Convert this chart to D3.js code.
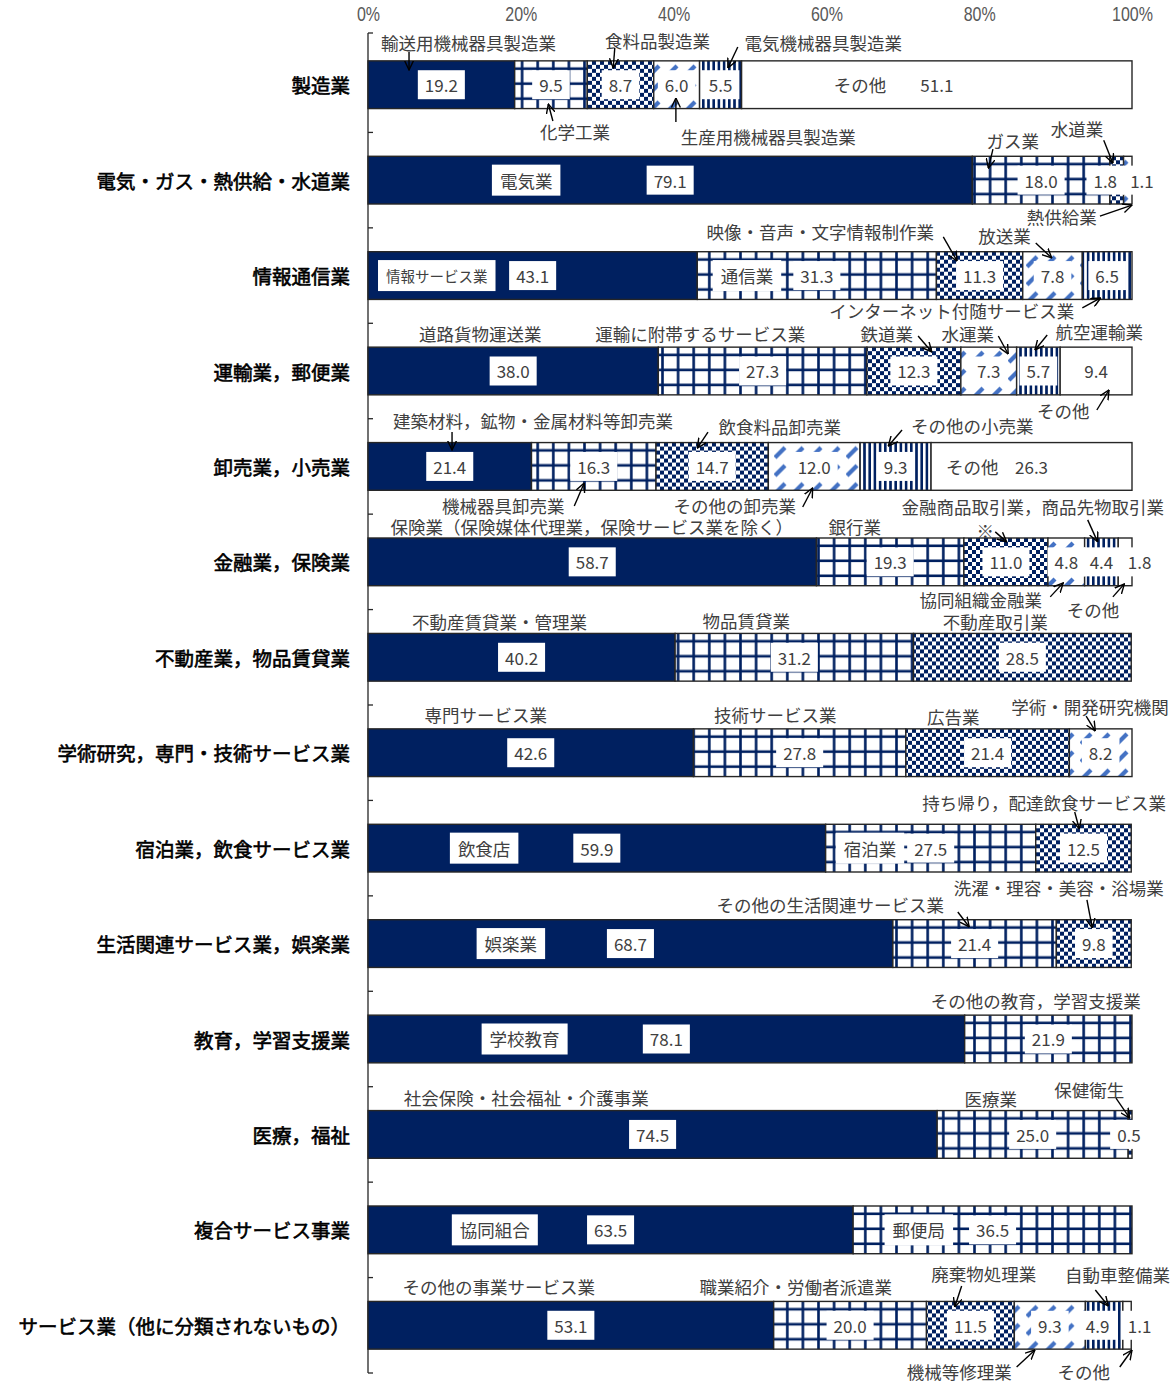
<!DOCTYPE html>
<html><head><meta charset="utf-8">
<script src="https://cdn.jsdelivr.net/npm/d3@7"></script>
<style>body{margin:0;background:#fff}svg{display:block}</style>
</head><body>
<svg id="chart" width="1176" height="1383"></svg>
<script>
// ---------------- DATA ----------------
const categories = [
  "製造業","電気・ガス・熱供給・水道業","情報通信業","運輸業，郵便業","卸売業，小売業",
  "金融業，保険業","不動産業，物品賃貸業","学術研究，専門・技術サービス業","宿泊業，飲食サービス業",
  "生活関連サービス業，娯楽業","教育，学習支援業","医療，福祉","複合サービス事業","サービス業（他に分類されないもの）"
];
const segNames = [
  ["輸送用機械器具製造業","化学工業","食料品製造業","生産用機械器具製造業","電気機械器具製造業","その他"],
  ["電気業","ガス業","水道業","熱供給業"],
  ["情報サービス業","通信業","映像・音声・文字情報制作業","放送業","インターネット付随サービス業"],
  ["道路貨物運送業","運輸に附帯するサービス業","鉄道業","水運業","航空運輸業","その他"],
  ["建築材料，鉱物・金属材料等卸売業","機械器具卸売業","飲食料品卸売業","その他の卸売業","その他の小売業","その他"],
  ["保険業（保険媒体代理業，保険サービス業を除く）","銀行業","※","協同組織金融業","金融商品取引業，商品先物取引業","その他"],
  ["不動産賃貸業・管理業","物品賃貸業","不動産取引業"],
  ["専門サービス業","技術サービス業","広告業","学術・開発研究機関"],
  ["飲食店","宿泊業","持ち帰り，配達飲食サービス業"],
  ["娯楽業","その他の生活関連サービス業","洗濯・理容・美容・浴場業"],
  ["学校教育","その他の教育，学習支援業"],
  ["社会保険・社会福祉・介護事業","医療業","保健衛生"],
  ["協同組合","郵便局"],
  ["その他の事業サービス業","職業紹介・労働者派遣業","廃棄物処理業","機械等修理業","自動車整備業","その他"]
];
const segValues = [
  [19.2, 9.5, 8.7, 6.0, 5.5, 51.1],
  [79.1, 18.0, 1.8, 1.1],
  [43.1, 31.3, 11.3, 7.8, 6.5],
  [38.0, 27.3, 12.3, 7.3, 5.7, 9.4],
  [21.4, 16.3, 14.7, 12.0, 9.3, 26.3],
  [58.7, 19.3, 11.0, 4.8, 4.4, 1.8],
  [40.2, 31.2, 28.5],
  [42.6, 27.8, 21.4, 8.2],
  [59.9, 27.5, 12.5],
  [68.7, 21.4, 9.8],
  [78.1, 21.9],
  [74.5, 25.0, 0.5],
  [63.5, 36.5],
  [53.1, 20.0, 11.5, 9.3, 4.9, 1.1]
];
const tickValues = [0, 20, 40, 60, 80, 100];
const tickLabels = ["0%","20%","40%","60%","80%","100%"];

// ---------------- LAYOUT (label placement, in axis % units and px offsets from bar centre) ----------------
const nameLayout = [
  [ {t:"out",x:13.15,dy:-42.7,a:[5.37,-32.7,5.37,-14.7]},
    {t:"out",x:27.1,dy:46.3,a:[24.2,36.3,23.6,19.3]},
    {t:"out",x:37.9,dy:-44.7,a:[32.3,-36.7,32.1,-16.7]},
    {t:"out",x:52.4,dy:51.3,a:[40.3,37.3,40.3,13.3]},
    {t:"out",x:59.6,dy:-42.7,a:[48.4,-37.7,47.1,-16.7]},
    {t:"in",x:64.4} ],
  [ {t:"box",x:20.7},
    {t:"out",x:84.4,dy:-40,a:[81.8,-31,81.2,-12]},
    {t:"out",x:92.8,dy:-52,a:[96.3,-40,97.5,-17]},
    {t:"out",x:90.8,dy:36,a:[95.8,36,100,25]} ],
  [ {t:"box",x:9.0,small:true},
    {t:"box",x:49.6},
    {t:"out",x:59.2,dy:-43.6,a:[75.3,-38.6,77.1,-14.6]},
    {t:"out",x:83.3,dy:-39.6,a:[87.4,-32.6,89.5,-17.6]},
    {t:"out",x:76.4,dy:35.4,a:[93.5,32.4,95.9,22.4]} ],
  [ {t:"out",x:14.7,dy:-38},
    {t:"out",x:43.5,dy:-38},
    {t:"out",x:67.9,dy:-38,a:[72.0,-35,73.8,-19]},
    {t:"out",x:78.5,dy:-38,a:[82.5,-35,83.8,-17]},
    {t:"out",x:95.7,dy:-40,a:[88.9,-36,87.3,-21]},
    {t:"out",x:91.0,dy:40,a:[95.4,39,97.0,19]} ],
  [ {t:"out",x:21.6,dy:-46.4,a:[11.0,-34.4,11.0,-16.4]},
    {t:"out",x:17.7,dy:38.6,a:[27.0,39.6,28.3,16.6]},
    {t:"out",x:53.9,dy:-40.4,a:[44.5,-34.4,43.1,-18.4]},
    {t:"out",x:48.0,dy:38.6,a:[56.9,40.6,58.2,21.6]},
    {t:"out",x:79.1,dy:-41.4,a:[69.9,-36.4,68.1,-20.4]},
    {t:"in",x:79.1} ],
  [ {t:"out",x:29.3,dy:-34.9},
    {t:"out",x:63.7,dy:-34.9},
    {t:"out",x:80.8,dy:-31,a:[82.1,-30,83.6,-20]},
    {t:"out",x:80.2,dy:38,a:[89.3,35,91.0,21]},
    {t:"out",x:87.0,dy:-55,a:[94.2,-42,95.5,-20]},
    {t:"out",x:94.9,dy:48,a:[97.5,35,99.0,22]} ],
  [ {t:"out",x:17.2,dy:-35.3}, {t:"out",x:49.5,dy:-36.3}, {t:"out",x:82.1,dy:-35.3} ],
  [ {t:"out",x:15.4,dy:-38.7}, {t:"out",x:53.3,dy:-38.7}, {t:"out",x:76.6,dy:-36.7},
    {t:"out",x:94.5,dy:-46.7,a:[94.0,-36.7,95.2,-21.7]} ],
  [ {t:"box",x:15.2}, {t:"box",x:65.7}, {t:"out",x:88.5,dy:-46.1,a:[92.5,-36.1,93.1,-19.1]} ],
  [ {t:"box",x:18.7}, {t:"out",x:60.5,dy:-38.6,a:[77.2,-31.6,78.7,-16.6]},
    {t:"out",x:90.4,dy:-55.6,a:[94.1,-43.6,94.8,-15.6]} ],
  [ {t:"box",x:20.5}, {t:"out",x:87.4,dy:-39} ],
  [ {t:"out",x:20.7,dy:-37.4}, {t:"out",x:81.5,dy:-36.4}, {t:"out",x:94.4,dy:-45.4,a:[97.9,-36.4,99.7,-16.4]} ],
  [ {t:"box",x:16.6}, {t:"box",x:72.1} ],
  [ {t:"out",x:17.1,dy:-38.3}, {t:"out",x:56.0,dy:-38.3},
    {t:"out",x:80.6,dy:-51.3,a:[77.7,-39.3,76.8,-18.3]},
    {t:"out",x:77.4,dy:46,a:[84.9,41.7,87.3,24.7]},
    {t:"out",x:98.1,dy:-50.3,a:[95.2,-35.3,96.9,-19.3]},
    {t:"out",x:93.7,dy:46,a:[98.4,41.7,100,24.7]} ]
];
// value label x overrides (axis % units), key "row-seg"
const valueXOverride = {"1-2":96.5,"1-3":101.3,"5-5":101.0,"11-2":99.6,"13-4":95.5,"13-5":101.0};

// ---------------- CHART ----------------
const NAVY = "#002060", BLUE = "#4472C4", TXT = "#404040";
const JP = "'Noto Sans CJK JP','Noto Sans',sans-serif";
const svg = d3.select("#chart");
const x = d3.scaleLinear().domain([0,100]).range([368,1132]);
const y = d3.scaleBand().domain(categories).range([37,1373]).paddingInner(0.5).paddingOuter(0.25);
const bh = y.bandwidth();

// patterns
const defs = svg.append("defs");
const pGrid = defs.append("pattern").attr("id","p-grid").attr("patternUnits","userSpaceOnUse")
  .attr("width",15.6).attr("height",15);
pGrid.append("rect").attr("width",15.6).attr("height",15).attr("fill","#fff");
pGrid.append("rect").attr("x",0).attr("y",6.5).attr("width",15.6).attr("height",2.6).attr("fill",NAVY);
pGrid.append("rect").attr("x",6).attr("y",0).attr("width",2.6).attr("height",15).attr("fill",NAVY);

const pChk = defs.append("pattern").attr("id","p-chk").attr("patternUnits","userSpaceOnUse")
  .attr("width",8).attr("height",8);
pChk.append("rect").attr("width",8).attr("height",8).attr("fill","#fff");
pChk.append("rect").attr("width",4).attr("height",4).attr("fill",NAVY);
pChk.append("rect").attr("x",4).attr("y",4).attr("width",4).attr("height",4).attr("fill",NAVY);

const pDiag = defs.append("pattern").attr("id","p-diag").attr("patternUnits","userSpaceOnUse")
  .attr("width",18).attr("height",18);
pDiag.append("rect").attr("width",18).attr("height",18).attr("fill","#fff");
pDiag.append("path").attr("d","M1,15 L11,5").attr("stroke",BLUE).attr("stroke-width",4.2).attr("stroke-linecap","butt");

const pVert = defs.append("pattern").attr("id","p-vert").attr("patternUnits","userSpaceOnUse")
  .attr("width",5.2).attr("height",8);
pVert.append("rect").attr("width",5.2).attr("height",8).attr("fill","#fff");
pVert.append("rect").attr("x",0).attr("width",2.6).attr("height",8).attr("fill",NAVY);

const fills = [NAVY, "url(#p-grid)", "url(#p-chk)", "url(#p-diag)", "url(#p-vert)", "#fff"];

const marker = defs.append("marker").attr("id","arr").attr("markerUnits","userSpaceOnUse")
  .attr("viewBox","0 0 10 10").attr("refX",9.5).attr("refY",5)
  .attr("markerWidth",10).attr("markerHeight",10).attr("orient","auto");
marker.append("path").attr("d","M0,0.5 L9.5,5 L0,9.5").attr("fill","none").attr("stroke","#000").attr("stroke-width",1.4);

// top axis labels
const xAxis = d3.axisTop(x).tickValues(tickValues).tickSize(0).tickFormat((d,i)=>tickLabels[i]);
const gx = svg.append("g").attr("transform","translate(0,22)").call(xAxis);
gx.select(".domain").remove();
gx.selectAll("text").attr("font-family","'Liberation Sans','Arial',sans-serif")
  .attr("font-size",20).attr("fill","#595959").attr("transform","scale(0.8,1)").attr("dy","0.1em");

// left axis line with ticks pointing right
const boundaries = d3.range(categories.length+1).map(i => 37 + i*y.step());
svg.append("line").attr("x1",x(0)).attr("x2",x(0)).attr("y1",boundaries[0]-4).attr("y2",boundaries[boundaries.length-1])
  .attr("stroke","#262626").attr("stroke-width",1.3);
svg.selectAll("line.tk").data(boundaries).join("line").attr("class","tk")
  .attr("x1",x(0)).attr("x2",x(0)+5).attr("y1",(d,i)=>i===0?d-4:d).attr("y2",(d,i)=>i===0?d-4:d)
  .attr("stroke","#262626").attr("stroke-width",1.3);

// category labels
svg.selectAll("text.cat").data(categories).join("text").attr("class","cat")
  .attr("x",350).attr("y",d=>y(d)+bh/2).attr("text-anchor","end").attr("dominant-baseline","central")
  .attr("font-family",JP).attr("font-size",19.5).attr("font-weight",400).attr("fill","#000")
  .attr("stroke","#000").attr("stroke-width",0.6).text(d=>d);

// bars
const rows = categories.map((c,ri) => {
  let cum = 0;
  return segValues[ri].map((v,si) => { const s = {ri, si, x0:cum, x1:cum+v, v, name:segNames[ri][si]}; cum += v; return s; });
});

function boxText(g, cx, cy, txt, size, pad, h){
  const t = g.append("text").attr("x",cx).attr("y",cy).attr("text-anchor","middle").attr("dominant-baseline","central")
    .attr("font-family",JP).attr("font-size",size).attr("fill",TXT).text(txt);
  const w = t.node().getComputedTextLength();
  g.insert("rect", () => t.node()).attr("x",cx-w/2-pad).attr("y",cy-h/2).attr("width",w+2*pad).attr("height",h).attr("fill","#fff");
}

rows.forEach((segs, ri) => {
  const g = svg.append("g").attr("transform",`translate(0,${y(categories[ri])})`);
  g.selectAll("rect.seg").data(segs).join("rect").attr("class","seg")
    .attr("x",d=>x(d.x0)).attr("width",d=>x(d.x1)-x(d.x0)).attr("y",0).attr("height",bh)
    .attr("fill",d=>fills[d.si]).attr("stroke","#262626").attr("stroke-width",1.4);
  const cy = bh/2;
  segs.forEach(s => {
    const key = ri+"-"+s.si;
    const vx = valueXOverride[key] !== undefined ? valueXOverride[key] : (s.x0+s.x1)/2;
    boxText(g, x(vx), cy, d3.format(".1f")(s.v), 17, 7, 29);
  });
  segs.forEach(s => {
    const L = nameLayout[ri][s.si];
    if (!L) return;
    if (L.t === "box") {
      boxText(g, x(L.x), cy, s.name, L.small?14.5:17.5, 8, 31);
    } else if (L.t === "in") {
      g.append("text").attr("x",x(L.x)).attr("y",cy).attr("text-anchor","middle").attr("dominant-baseline","central")
        .attr("font-family",JP).attr("font-size",17.5).attr("fill",TXT).text(s.name);
    } else {
      g.append("text").attr("x",x(L.x)).attr("y",cy+L.dy).attr("text-anchor","middle").attr("dominant-baseline","central")
        .attr("font-family",JP).attr("font-size",17.5).attr("fill",TXT).text(s.name);
      if (L.a) {
        g.append("line").attr("x1",x(L.a[0])).attr("y1",cy+L.a[1]).attr("x2",x(L.a[2])).attr("y2",cy+L.a[3])
          .attr("stroke","#000").attr("stroke-width",1.4).attr("marker-end","url(#arr)");
      }
    }
  });
});
</script>
</body></html>
